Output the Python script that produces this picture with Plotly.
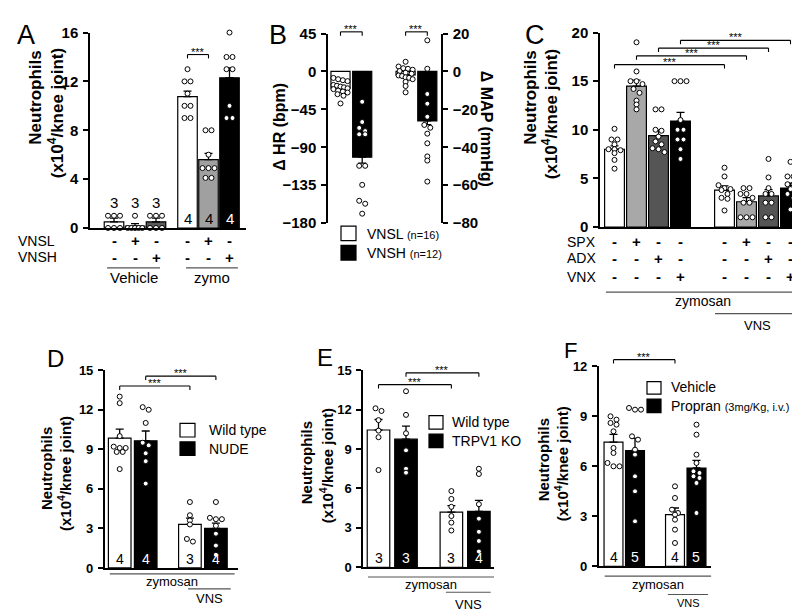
import plotly.graph_objects as go

W, H = 800, 612
FONT = "Liberation Sans, Arial, Helvetica, sans-serif"

# ============================ DATA ============================
# ---- Panel A
A_mean = [0.5, 0.15, 0.5, 10.75, 5.6, 12.3]
A_sem = [0.3, 0.2, 0.3, 0.45, 0.5, 0.8]
A_n = ["3", "3", "3", "4", "4", "4"]
A_points = [
    [1, 1, 1, 0, 0, 0],
    [1, 0, 0, 0, 0, 0],
    [1, 1, 1, 0, 0, 0],
    [13, 12, 12, 11, 10, 10, 9, 9],
    [8, 8, 6, 4.9, 4.9, 4.9, 4.1, 4.1],
    [16, 14, 14, 13, 13, 10, 9, 9],
]
A_VNSL = ["-", "+", "-", "-", "+", "-"]
A_VNSH = ["-", "-", "+", "-", "-", "+"]
A_rows = ["VNSL", "VNSH"]
A_groups = ["Vehicle", "zymo"]
A_yticks = [0, 4, 8, 12, 16]
A_sig = [(3, 4, 14.2)]

# ---- Panel B
B_HR_mean = [-19.7, -101.7]
B_HR_sem = [2.0, 7.0]
B_MAP_mean = [-1.8, -26.1]
B_MAP_sem = [1.0, 2.0]
B_HR_points = [
    [-7.7, -9.2, -10.4, -11.5, -16, -16.9, -18, -18.8, -20, -21, -22.7, -23.8, -25, -27, -28.8, -38],
    [-36, -60, -67, -70.8, -74.6, -74.6, -112, -112, -134.6, -153.5, -157, -168.8],
]
B_MAP_points = [
    [5.1, 2.6, 1.7, 1.4, 0.9, 0.2, -0.7, -1.2, -2.1, -2.4, -3.1, -3.4, -4.1, -5.5, -7.7, -11],
    [16.4, 1.4, -11.9, -17, -23.9, -28.2, -29.7, -32.8, -37.9, -44.8, -47, -58.1],
]
B_legend = ["VNSL", "VNSH"]
B_legend_n = ["(n=16)", "(n=12)"]
B_HR_ticks = [45, 0, -45, -90, -135, -180]
B_MAP_ticks = [20, 0, -20, -40, -60, -80]
B_sig = [(0, 1, 47), (2, 3, 47)]

# ---- Panel C
C_mean = [8.0, 14.5, 9.4, 10.9, 3.8, 2.6, 3.2, 4.0]
C_sem = [0.35, 0.6, 0.55, 0.9, 0.43, 0.43, 0.65, 0.5]
C_points = [
    [10.1, 9.0, 9.0, 8.5, 8.0, 8.0, 7.9, 7.6, 6.9, 6.0],
    [19, 16, 15, 15, 14.7, 14.2, 13.8, 13, 12.6, 12.1],
    [12.1, 12.1, 10, 9.9, 9.3, 8.8, 8.5, 8.1, 8.0, 7.7],
    [15, 15, 15, 11, 10, 10, 9, 9, 8, 7],
    [6.1, 5.2, 4.3, 4.0, 3.9, 3.8, 3.4, 3.0, 2.9, 1.7],
    [4, 4, 3.4, 3.4, 3.0, 2.5, 2.5, 1, 1, 1],
    [7, 5.1, 4, 3.4, 3.4, 2.5, 2.5, 1, 1],
    [6.7, 5.2, 5.2, 4.4, 4.4, 3.9, 3.4, 3.0, 1.8],
]
C_SPX = ["-", "+", "-", "-", "-", "+", "-", "-"]
C_ADX = ["-", "-", "+", "-", "-", "-", "+", "-"]
C_VNX = ["-", "-", "-", "+", "-", "-", "-", "+"]
C_rows = ["SPX", "ADX", "VNX"]
C_yticks = [0, 5, 10, 15, 20]
C_sig = [(0, 4, 16.7), (1, 5, 17.6), (2, 6, 18.4), (3, 7, 19.2)]

# ---- Panel D
D_mean = [9.85, 9.65, 3.3, 3.0]
D_sem = [0.68, 0.74, 0.48, 0.4]
D_n = ["4", "4", "3", "4"]
D_points = [
    [13, 12.5, 10, 9.2, 9.1, 9.1, 8.8, 8.8, 7.5],
    [12.2, 12.0, 11.0, 9.5, 9.3, 8.7, 8.1, 6.4],
    [5.0, 4.0, 3.6, 3.3, 2.2, 2.0],
    [5.0, 3.8, 3.7, 3.7, 3.2, 2.6, 1.7, 1.0],
]
D_legend = ["Wild type", "NUDE"]
D_yticks = [0, 3, 6, 9, 12, 15]
D_sig = [(0, 2, 13.8), (1, 3, 14.55)]

# ---- Panel E
E_mean = [10.45, 9.75, 4.2, 4.25]
E_sem = [0.8, 1.0, 0.5, 0.85]
E_n = ["3", "3", "3", "4"]
E_points = [
    [12.1, 11.9, 11.2, 10.4, 9.9, 7.4],
    [13.4, 11.6, 10.2, 8.9, 7.5, 7.2],
    [5.8, 5.2, 4.6, 3.9, 3.4, 2.8],
    [7.5, 7.1, 4.8, 3.7, 2.7, 2.0, 1.2],
]
E_legend = ["Wild type", "TRPV1 KO"]
E_yticks = [0, 3, 6, 9, 12, 15]
E_sig = [(0, 2, 13.9), (1, 3, 14.8)]

# ---- Panel F
F_mean = [7.45, 6.95, 3.1, 5.9]
F_sem = [0.47, 0.73, 0.4, 0.46]
F_n = ["4", "5", "4", "5"]
F_points = [
    [9.0, 8.8, 8.6, 8.5, 8.1, 7.1, 6.8, 6.2, 6.0, 6.0],
    [9.5, 9.4, 9.4, 7.8, 7.6, 7.0, 6.7, 5.4, 4.5, 2.7],
    [4.8, 4.1, 3.4, 3.2, 3.1, 2.8, 2.2, 1.4],
    [8.5, 7.9, 6.7, 6.2, 5.7, 5.6, 5.4, 5.3, 5.0, 3.2],
]
F_legend = ["Vehicle", "Propran"]
F_legend_note = "(3mg/Kg, i.v.)"
F_yticks = [0, 3, 6, 9, 12]
F_sig = [(0, 2, 12.4)]

# ====================== LAYOUT / GEOMETRY ======================
P = {
    "A": dict(xa="x", ya="y", xpx=(82, 238), ypx=(16, 217), p0=106, unit=21, yr=(0, 16), fs=15),
    "B": dict(xa="x2", ya="y2", xpx=(320, 433), ypx=(17, 212), p0=332.5, unit=21.7, yr=(-180, 45), fs=15),
    "C": dict(xa="x3", ya="y3", xpx=(592, 793), ypx=(16, 216), p0=606.5, unit=22, yr=(0, 20), fs=15),
    "D": dict(xa="x4", ya="y4", xpx=(96.7, 230), ypx=(363.3, 566.7), p0=111.7, unit=26, yr=(0, 15), fs=13),
    "E": dict(xa="x5", ya="y5", xpx=(355, 486), ypx=(363.3, 566), p0=370.5, unit=27.5, yr=(0, 15), fs=13),
    "F": dict(xa="x6", ya="y6", xpx=(590.7, 703.3), ypx=(359.3, 565), p0=605.5, unit=21.5, yr=(0, 12), fs=13),
}
B_MAP_range = (-80, 20)

A_pos = [0, 1, 2, 3.5, 4.5, 5.5]
B_pos = [0, 1, 3, 4]
C_pos = [0, 1, 2, 3, 5, 6, 7, 8]
D_pos = [0, 1, 2.7, 3.7]
E_pos = [0, 1, 2.65, 3.65]
F_pos = [0, 1, 2.86, 3.86]

A_colors = ["white", "white", "#5a5a5a", "white", "#a0a0a0", "black"]
C_colors = ["white", "#a8a8a8", "#555555", "black"] * 2
BW_colors = ["white", "black", "white", "black"]


def xdom(p):
    return [p["xpx"][0] / W, p["xpx"][1] / W]


def ydom(p):
    return [1 - p["ypx"][1] / H, 1 - p["ypx"][0] / H]


def xrange_of(p):
    return [(p["xpx"][0] - p["p0"]) / p["unit"], (p["xpx"][1] - p["p0"]) / p["unit"]]


def ppu(p, yr=None):
    yr = yr or p["yr"]
    return (p["ypx"][1] - p["ypx"][0]) / (yr[1] - yr[0])


def y2paper(p, v, yr=None):
    yr = yr or p["yr"]
    d = ydom(p)
    return d[0] + (v - yr[0]) / (yr[1] - yr[0]) * (d[1] - d[0])


def swarm(vals, ppy, ppx, bar_px, tol_px=4.0, step_px=6.0):
    order = sorted(range(len(vals)), key=lambda i: -vals[i])
    offs = [0.0] * len(vals)
    i = 0
    while i < len(order):
        start = vals[order[i]]
        j = i
        while j < len(order) and abs(vals[order[j]] - start) * ppy < tol_px:
            j += 1
        grp = order[i:j]
        m = len(grp)
        if m > 1:
            step = min(step_px, (bar_px - 5) / (m - 1))
            for k, idx in enumerate(grp):
                offs[idx] = (k - (m - 1) / 2) * step / ppx
        i = j
    return offs


fig = go.Figure()
shapes, annotations = [], []


def ann(text, x, y, size, xref="paper", yref="paper", xanchor="center", yanchor="middle",
        angle=0, color="black", yshift=0):
    annotations.append(dict(text=text, x=x, y=y, xref=xref, yref=yref, xanchor=xanchor,
                            yanchor=yanchor, textangle=angle, showarrow=False, yshift=yshift,
                            font=dict(family=FONT, size=size, color=color)))


def pann(text, xpx, ypx, size, **kw):
    ann(text, xpx / W, 1 - ypx / H, size, **kw)


def add_bars(key, pos, mean, sem, colors, points, bw, ya=None, yr=None, down=False):
    p = P[key]
    ya = ya or p["ya"]
    zeros = [0] * len(pos)
    fig.add_trace(go.Bar(
        x=pos, y=mean, width=bw, xaxis=p["xa"], yaxis=ya,
        marker=dict(color=colors, line=dict(color="black", width=1.2)),
        error_y=dict(type="data", symmetric=False, array=zeros if down else sem,
                     arrayminus=sem if down else zeros, color="black", thickness=1.3, width=4),
        hoverinfo="skip"))
    ppy = ppu(p, yr)
    xs, ys = [], []
    for i, pts in enumerate(points):
        offs = swarm(pts, ppy, p["unit"], bw * p["unit"])
        xs += [pos[i] + o for o in offs]
        ys += list(pts)
    fig.add_trace(go.Scatter(
        x=xs, y=ys, mode="markers", xaxis=p["xa"], yaxis=ya, cliponaxis=False,
        marker=dict(size=5, color="white", line=dict(color="black", width=1)),
        hoverinfo="skip"))


def add_n(key, pos, mean, labels, points, colors, size):
    p = P[key]
    ppy = ppu(p)
    for i in range(len(pos)):
        if mean[i] * ppy < 20:
            y, ysh = max(points[i]), 3
        else:
            y, ysh = 0, -1
        col = "white" if colors[i] == "black" else "black"
        ann(labels[i], pos[i], y, size, xref=p["xa"], yref=p["ya"], yanchor="bottom",
            yshift=ysh, color=col)


def add_sig(key, pos, sig, drop_px=4):
    p = P[key]
    for i, j, h in sig:
        yp = y2paper(p, h)
        dp = drop_px / H
        x1, x2 = pos[i], pos[j]
        for (a, b, c, d) in [(x1, yp - dp, x1, yp), (x1, yp, x2, yp), (x2, yp, x2, yp - dp)]:
            shapes.append(dict(type="line", xref=p["xa"], yref="paper", x0=a, y0=b, x1=c, y1=d,
                               line=dict(color="black", width=1.1)))
        ann("***", (x1 + x2) / 2, yp, 11, xref=p["xa"], yref="paper", yanchor="bottom", yshift=-5)


def add_group(key, x0, x1, line_px, label, text_px, size):
    p = P[key]
    yl = 1 - line_px / H
    shapes.append(dict(type="line", xref=p["xa"], yref="paper", x0=x0, x1=x1, y0=yl, y1=yl,
                       line=dict(color="#555555", width=1.2)))
    ann(label, (x0 + x1) / 2, 1 - text_px / H, size, xref=p["xa"], yref="paper")


def add_signs(key, pos, row, ypx, size=15):
    p = P[key]
    for i, s in enumerate(row):
        ann("<b>%s</b>" % s, pos[i], 1 - ypx / H, size, xref=p["xa"], yref="paper")


def legend_box(x0, y0, x1, y1, fill):
    shapes.append(dict(type="rect", xref="paper", yref="paper", x0=x0 / W, x1=x1 / W,
                       y0=1 - y1 / H, y1=1 - y0 / H, fillcolor=fill,
                       line=dict(color="black", width=1.2)))


# ---------------- traces ----------------
add_bars("A", A_pos, A_mean, A_sem, A_colors, A_points, 0.93)
add_bars("B", B_pos[:2], B_HR_mean, B_HR_sem, BW_colors[:2], B_HR_points, 0.88, down=True)
add_bars("B", B_pos[2:], B_MAP_mean, B_MAP_sem, BW_colors[2:], B_MAP_points, 0.88,
         ya="y7", yr=B_MAP_range, down=True)
add_bars("C", C_pos, C_mean, C_sem, C_colors, C_points, 0.9)
add_bars("D", D_pos, D_mean, D_sem, BW_colors, D_points, 0.87)
add_bars("E", E_pos, E_mean, E_sem, BW_colors, E_points, 0.82)
add_bars("F", F_pos, F_mean, F_sem, BW_colors, F_points, 0.88)

# ---------------- axes ----------------
layout = dict(width=W, height=H, margin=dict(l=0, r=0, t=0, b=0), paper_bgcolor="white",
              plot_bgcolor="white", showlegend=False, barmode="overlay",
              font=dict(family=FONT, color="black"))
ticks_map = {"A": A_yticks, "B": B_HR_ticks, "C": C_yticks, "D": D_yticks, "E": E_yticks, "F": F_yticks}
for key, p in P.items():
    xname = "xaxis" + p["xa"][1:]
    yname = "yaxis" + p["ya"][1:]
    layout[xname] = dict(domain=xdom(p), range=xrange_of(p), anchor=p["ya"], showline=(key != "B"),
                         linecolor="black", linewidth=1.5, ticks="", showticklabels=False,
                         showgrid=False, zeroline=False, fixedrange=True)
    layout[yname] = dict(domain=ydom(p), range=list(p["yr"]), anchor=p["xa"], tickvals=ticks_map[key],
                         showline=True, linecolor="black", linewidth=1.5, ticks="outside",
                         ticklen=5, tickwidth=1.5, tickcolor="black", showgrid=False,
                         zeroline=False, ticklabelstandoff=2,
                         tickfont=dict(family=FONT, size=p["fs"], color="black", weight="bold"))
layout["yaxis7"] = dict(overlaying="y2", side="right", anchor="x2", range=list(B_MAP_range),
                        tickvals=B_MAP_ticks, showline=True, linecolor="black", linewidth=1.5,
                        ticks="outside", ticklen=5, tickwidth=1.5, tickcolor="black",
                        showgrid=False, zeroline=False, ticklabelstandoff=2,
                        tickfont=dict(family=FONT, size=15, color="black", weight="bold"))

# ---------------- panel letters ----------------
for letter, (lx, ly, ls) in {"A": (18, 19, 27), "B": (270, 18, 27), "C": (527, 18, 27),
                             "D": (47, 351, 24), "E": (317, 350, 24), "F": (562, 343, 22)}.items():
    pann(letter, lx, ly, ls)

# ---------------- y titles ----------------
T1 = "<b>Neutrophils</b>"
T2 = "<b>(x10<sup>4</sup>/knee joint)</b>"
for (x1, y1, x2, y2, s) in [(28, 83, 48, 99, 17), (523, 83, 542, 100, 17),
                            (38, 465, 57, 469, 15), (298, 459, 318, 462, 15),
                            (535, 456, 553, 460, 15)]:
    pann(T1, x1, y1, s, angle=-90)
    pann(T2, x2, y2, s, angle=-90)
pann("<b>\u0394 HR (bpm)</b>", 272, 113, 16, angle=-90)
pann("<b>\u0394 MAP (mmHg)</b>", 478, 115, 16, angle=90)

# ---------------- panel A extras ----------------
add_n("A", A_pos, A_mean, A_n, A_points, A_colors, 15)
add_sig("A", A_pos, A_sig)
pann(A_rows[0], 8, 230, 14, xanchor="left")
pann(A_rows[1], 8, 247, 14, xanchor="left")
add_signs("A", A_pos, A_VNSL, 230)
add_signs("A", A_pos, A_VNSH, 247)
add_group("A", A_pos[0] - 0.33, A_pos[2] + 0.19, 258, A_groups[0], 268, 15)
add_group("A", A_pos[3] - 0.07, A_pos[5] + 0.4, 258, A_groups[1], 268, 15)

# ---------------- panel B extras ----------------
add_sig("B", B_pos, B_sig)
legend_box(333, 215, 348, 230, "white")
legend_box(333, 235, 348, 250, "black")
pann("%s <span style='font-size:11px'>%s</span>" % (B_legend[0], B_legend_n[0]), 357, 223, 14, xanchor="left")
pann("%s <span style='font-size:11px'>%s</span>" % (B_legend[1], B_legend_n[1]), 357, 243, 14, xanchor="left")

# ---------------- panel C extras ----------------
add_sig("C", C_pos, C_sig)
for lab, row, yy in zip(C_rows, [C_SPX, C_ADX, C_VNX], [231, 248, 267]):
    pann(lab, 557, yy, 14, xanchor="left")
    add_signs("C", C_pos, row, yy)
add_group("C", C_pos[0] - 0.39, C_pos[-1] + 0.48, 283, "zymosan", 292, 14)
add_group("C", C_pos[4] - 0.43, C_pos[-1] + 0.43, 305, "VNS", 317, 13)

# ---------------- panel D extras ----------------
add_n("D", D_pos, D_mean, D_n, D_points, BW_colors, 14)
add_sig("D", D_pos, D_sig)
add_group("D", D_pos[0] - 0.38, D_pos[3] + 0.72, 572.7, "zymosan", 580.5, 13)
add_group("D", D_pos[2] - 0.07, D_pos[3] + 0.57, 588.3, "VNS", 598.5, 13)
legend_box(172, 418, 187, 432, "white")
legend_box(172, 437, 187, 451, "black")
pann(D_legend[0], 199, 425, 14, xanchor="left")
pann(D_legend[1], 199, 444, 14, xanchor="left")

# ---------------- panel E extras ----------------
add_n("E", E_pos, E_mean, E_n, E_points, BW_colors, 14)
add_sig("E", E_pos, E_sig)
add_group("E", E_pos[0] - 0.38, E_pos[3] + 0.55, 576, "zymosan", 583.5, 13)
add_group("E", E_pos[2] - 0.2, E_pos[3] + 0.43, 591.7, "VNS", 604, 13)
legend_box(421, 410, 435, 424, "white")
legend_box(421, 429, 435, 443, "black")
pann(E_legend[0], 442, 417, 14, xanchor="left")
pann(E_legend[1], 442, 436.5, 14, xanchor="left")

# ---------------- panel F extras ----------------
add_n("F", F_pos, F_mean, F_n, F_points, BW_colors, 14)
add_sig("F", F_pos, F_sig)
add_group("F", F_pos[0] - 0.41, F_pos[3] + 0.69, 575, "zymosan", 583.5, 13)
add_group("F", F_pos[2] - 0.33, F_pos[3] + 0.54, 594, "VNS", 602.5, 11)
legend_box(639, 375, 653, 388, "white")
legend_box(639, 393, 653, 407, "black")
pann(F_legend[0], 661, 381, 14, xanchor="left")
pann("%s <span style='font-size:11px'>%s</span>" % (F_legend[1], F_legend_note), 661, 400, 14, xanchor="left")

layout["shapes"] = shapes
layout["annotations"] = annotations
fig.update_layout(**layout)
fig.write_html("out.html")
